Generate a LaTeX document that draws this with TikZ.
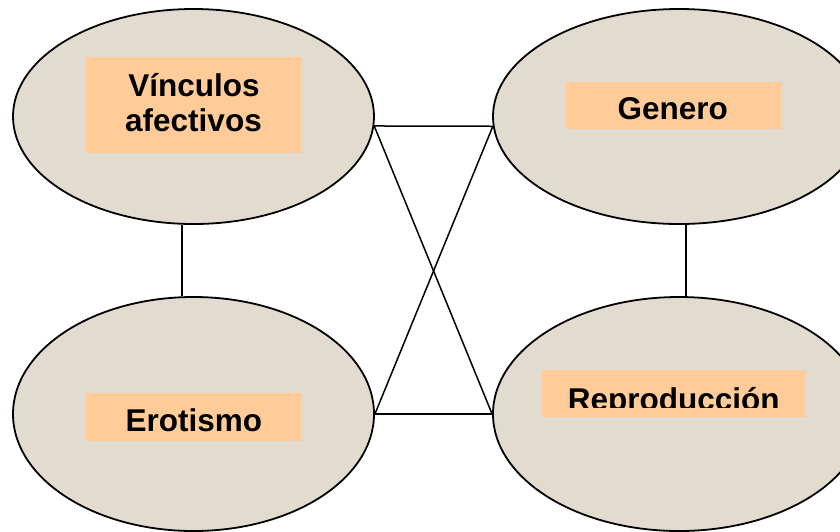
\documentclass[tikz,border=0pt]{standalone}
\usepackage{fontspec}
\setmainfont{Liberation Sans}
\usetikzlibrary{shapes.geometric}
\definecolor{beige}{RGB}{226,220,208}
\definecolor{peach}{RGB}{255,204,153}
\begin{document}
\begin{tikzpicture}[x=1pt,y=-1pt,
  topic/.style={ellipse,draw=black,line width=1.8pt,fill=beige,inner sep=0pt},
  labelbox/.style={rectangle,fill=peach,inner sep=0pt},
  labeltext/.style={font=\fontsize{31.5}{35}\selectfont\bfseries,anchor=base,inner sep=0pt},
  link/.style={draw=black,line width=1.5pt}]
\useasboundingbox (0,0) rectangle (840,531);
\clip (0,0) rectangle (840,531);
% ellipses
\node[topic,minimum width=361pt,minimum height=215pt] (VA) at (193.5,116.5) {};
\node[topic,minimum width=372pt,minimum height=215pt] (GE) at (679,116.5) {};
\node[topic,minimum width=361pt,minimum height=234pt] (ER) at (193.5,414) {};
\node[topic,minimum width=372pt,minimum height=234pt] (RE) at (679,414) {};
% connectors
\draw[link] (VA.-3.6) -- (GE.183.5);
\draw[link] (ER.-0.6) -- (RE.180.6);
\draw[link] (VA.-3.6) -- (RE.180.6);
\draw[link] (GE.183.5) -- (ER.-0.6);
\draw[link] ([xshift=-11.5pt]VA.south) -- ([xshift=-11.5pt]ER.north);
\draw[link] ([xshift=7pt]GE.south) -- ([xshift=7pt]RE.north);
% label boxes
\node[labelbox,minimum width=216pt,minimum height=96pt] (VAb) at (194,105) {};
\node[labeltext] (VAt1) at (194,96.7) {Vínculos};
\node[labeltext] (VAt2) at (193.5,131.7) {afectivos};
\node[labelbox,minimum width=216pt,minimum height=47.6pt] (GEb) at (673.7,105.5) {};
\node[labeltext] (GEt) at (672.8,119) {Genero};
\node[labelbox,minimum width=216pt,minimum height=47.4pt] (ERb) at (194,417) {};
\node[labeltext] (ERt) at (193.8,431.7) {Erotismo};
\node[labelbox,minimum width=264pt,minimum height=47.3pt] (REb) at (673.7,393.7) {};
\begin{scope}
\clip (530,360) rectangle (820,407);
\node[labeltext] (REt) at (673.8,410) {Reproducción};
\end{scope}
\end{tikzpicture}
\end{document}
